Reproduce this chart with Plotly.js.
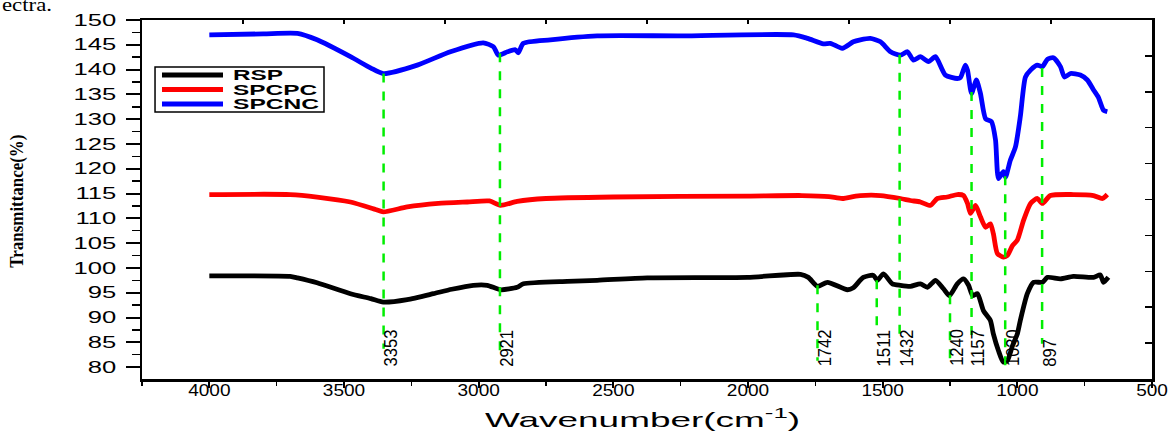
<!DOCTYPE html>
<html>
<head>
<meta charset="utf-8">
<script src="https://cdn.plot.ly/plotly-3.0.1.min.js"></script>
<style>
html,body{margin:0;padding:0;background:#fff;}
#chart{width:1173px;height:435px;}
</style>
</head>
<body>
<div id="chart"></div>
<script>
// ---- Data ----
const rspX = [4000,3700,3673,3600,3476,3400,3354,3265,3168,3100,3020,2968,2919,2857,2834,2671,2560,2374,2002,1805,1776,1742,1705,1631,1609,1572,1534,1520,1497,1464,1434,1397,1360,1334,1304,1274,1252,1223,1200,1181,1166,1148,1126,1100,1089,1070,1052,1037,1018,1000,989,963,940,907,888,840,792,717,692,680,662];
const rspY = [98.4,98.3,98.0,97.0,94.8,93.8,93.1,93.6,94.8,95.7,96.5,96.5,95.6,96.1,96.8,97.3,97.5,98.0,98.1,98.7,98.1,96.3,97.1,95.6,96.0,98.1,98.5,97.5,98.8,96.8,96.5,96.3,96.8,96.1,97.5,95.8,94.4,96.8,97.8,96.5,94.4,94.8,91.4,89.4,86.7,83.3,81.0,81.3,84.3,86.7,89.4,94.8,97.1,97.1,98.1,97.8,98.3,98.1,98.6,97.1,98.1];

const spcpcX = [4000,3700,3600,3476,3383,3354,3265,3150,3042,2960,2919,2857,2750,2500,2000,1800,1700,1650,1600,1583,1508,1434,1397,1360,1323,1297,1260,1223,1200,1185,1174,1155,1137,1118,1100,1089,1074,1052,1037,1018,1000,977,951,926,907,877,792,717,684,666];
const spcpcY = [114.8,114.8,114.3,113.3,111.8,111.3,112.3,113.0,113.3,113.5,112.6,113.4,114.0,114.3,114.5,114.6,114.4,114.0,114.5,114.6,114.6,114.0,113.6,113.3,112.6,114.0,114.3,114.8,114.6,113.0,111.0,112.6,110.3,108.2,108.9,106.9,102.9,102.2,102.5,104.5,105.6,109.6,113.0,114.0,113.0,114.6,114.8,114.6,114.0,114.8];

const spcncX = [4000,3800,3673,3600,3476,3400,3354,3228,3105,2983,2945,2927,2893,2864,2853,2834,2734,2560,2251,1831,1779,1720,1694,1650,1609,1583,1546,1508,1471,1434,1408,1386,1360,1330,1304,1267,1223,1211,1193,1185,1170,1152,1137,1118,1096,1081,1070,1052,1044,1026,1007,989,970,951,926,907,888,866,840,825,803,766,740,717,699,680,666];
const spcncY = [147.0,147.2,147.3,146.0,142.6,140.3,139.2,140.9,143.6,145.4,144.6,142.9,143.6,144.0,143.4,145.3,146.0,146.8,146.8,147.0,146.3,145.2,145.3,144.3,145.6,146.0,146.3,145.6,143.6,142.9,143.6,141.9,142.6,141.6,142.6,138.9,138.2,138.4,140.9,139.9,135.2,137.9,135.2,130.1,129.5,125.8,118.0,119.4,118.3,121.7,124.4,130.5,138.5,139.9,140.9,140.6,142.1,142.4,140.6,138.5,139.2,138.9,137.9,135.9,134.4,131.8,131.5];

const seriesNames  = ['RSP', 'SPCPC', 'SPCNC'];
const seriesColors = ['#000000', '#ff0000', '#0000ff'];

const peakPos    = [3353, 2921, 1742, 1522, 1437, 1250, 1170, 1045, 908];
const peakLabels = ["3353","2921","1742","1511","1432","1240","1157","1030","897"];
const peakTop    = [139.2, 143.3, 96.5, 97.5, 143.0, 94.5, 135.5, 118.5, 140.3];
const peakBottom = [83.7, 83.3, 81.3, 86.8, 85.3, 80.0, 84.7, 79.5, 84.7];

const xTicks = [4000,3500,3000,2500,2000,1500,1000,500];
const yTicks = [80,85,90,95,100,105,110,115,120,125,130,135,140,145,150];

const FONT = 'Liberation Sans, Arial, sans-serif';
const SERIF = 'Liberation Serif, Times New Roman, serif';

// ---- Traces ----
const seriesX = [rspX, spcpcX, spcncX];
const seriesY = [rspY, spcpcY, spcncY];
const traces = seriesNames.map((n, i) => ({
  x: seriesX[i], y: seriesY[i], name: n, type: 'scatter', mode: 'lines', showlegend: false,
  line: {color: seriesColors[i], width: 4.8, shape: 'spline', smoothing: 0.6}
}));

peakPos.forEach((p, i) => {
  traces.push({x: [p, p], y: [peakTop[i], peakBottom[i]], type: 'scatter', mode: 'lines', showlegend: false, hoverinfo: 'skip',
    line: {color: '#00ee00', width: 2.5, dash: 'dash'}});
});

// empty trace so the top/right frame axes get drawn
traces.push({x: [], y: [], xaxis: 'x2', yaxis: 'y2', type: 'scatter', mode: 'lines', showlegend: false, hoverinfo: 'skip'});

const annotations = peakPos.map((p, i) => ({
  x: p, y: 79.2, xref: 'x', yref: 'y', text: peakLabels[i], showarrow: false,
  textangle: -90, xanchor: 'left', yanchor: 'bottom', xshift: -6,
  font: {family: FONT, size: 19, color: '#000'}
}));

// axis titles
annotations.push({xref: 'paper', yref: 'paper', x: 0.496, y: -0.108, xanchor: 'center', yanchor: 'middle',
  text: 'Wavenumber(cm<sup>-1</sup>)', showarrow: false, font: {family: FONT, size: 21, color: '#000'}});
annotations.push({xref: 'paper', yref: 'paper', x: -0.1238, y: 0.496, xanchor: 'center', yanchor: 'middle', textangle: -90,
  text: '<b>Transmittance(%)</b>', showarrow: false, font: {family: SERIF, size: 19, color: '#000'}});
// page text above the chart
annotations.push({xref: 'paper', yref: 'paper', x: -0.1406, y: 1.078, xanchor: 'left', yanchor: 'top',
  text: 'ectra.', showarrow: false, font: {family: SERIF, size: 19, color: '#000'}});

// ---- Hand-drawn legend (box, line samples, labels) ----
const shapes = [{type: 'rect', xref: 'paper', yref: 'paper', x0: 0.0129, x1: 0.1802, y0: 0.7437, y1: 0.8691,
  line: {color: '#000', width: 1.5}, fillcolor: '#fff', layer: 'above'}];
const legRows = [0.8468, 0.8064, 0.766];
seriesNames.forEach((n, i) => {
  shapes.push({type: 'line', xref: 'paper', yref: 'paper', x0: 0.0198, x1: 0.0802, y0: legRows[i], y1: legRows[i],
    line: {color: seriesColors[i], width: 5}, layer: 'above'});
  annotations.push({xref: 'paper', yref: 'paper', x: 0.0885, y: legRows[i], xanchor: 'left', yanchor: 'middle',
    text: '<b>' + n + '</b>', showarrow: false, font: {family: FONT, size: 14, color: '#000'}});
});

const layout = {
  width: 1173, height: 435,
  margin: {l: 142, r: 21, t: 20, b: 56},
  paper_bgcolor: '#fff', plot_bgcolor: '#fff',
  showlegend: false,
  xaxis: {
    range: [4250, 500], tickvals: xTicks, ticktext: xTicks.map(String),
    ticks: 'outside', ticklen: 6, tickwidth: 2, tickcolor: '#000', ticklabelstandoff: -12,
    minor: {dtick: 250, tick0: 0, ticks: 'outside', ticklen: 4, tickwidth: 1.5, tickcolor: '#000'},
    showline: true, linecolor: '#000', linewidth: 2.5, mirror: true, showgrid: false, zeroline: false,
    tickfont: {family: FONT, size: 17, color: '#000'}
  },
  yaxis: {
    range: [77.6, 150], tickvals: yTicks, ticktext: yTicks.map(String),
    ticks: 'outside', ticklen: 14, tickwidth: 2, tickcolor: '#000', ticklabelstandoff: 6,
    minor: {dtick: 2.5, tick0: 0, ticks: 'outside', ticklen: 8, tickwidth: 1.5, tickcolor: '#000'},
    showline: true, linecolor: '#000', linewidth: 2.5, mirror: true, showgrid: false, zeroline: false,
    tickfont: {family: FONT, size: 16, color: '#000'}
  },
  // frame ticks on top and right edges (inward, unlabeled)
  xaxis2: {overlaying: 'x', side: 'top', anchor: 'y2', range: [0, 10], dtick: 1, ticks: 'inside', ticklen: 4, tickwidth: 1.5,
    tickcolor: '#000', showticklabels: false, showgrid: false, zeroline: false, showline: false, fixedrange: true},
  yaxis2: {overlaying: 'y', side: 'right', anchor: 'x2', range: [0, 10], dtick: 1, ticks: 'inside', ticklen: 7, tickwidth: 1.5,
    tickcolor: '#000', showticklabels: false, showgrid: false, zeroline: false, showline: false, fixedrange: true},
  shapes: shapes,
  annotations: annotations
};

function stretch(el, len) {
  if (!el) return;
  el.setAttribute('textLength', len);
  el.setAttribute('lengthAdjust', 'spacingAndGlyphs');
}
function stretchLeft(el, len) {
  if (!el) return;
  const old = el.getComputedTextLength();
  stretch(el, len);
  const x = parseFloat(el.getAttribute('x') || '0');
  el.setAttribute('x', x + (len - old) / 2);
}

Plotly.newPlot('chart', traces, layout, {displayModeBar: false, staticPlot: true}).then(gd => {
  gd.querySelectorAll('.yaxislayer-above .ytick text').forEach(t => stretch(t, t.getComputedTextLength() * 1.6));
  gd.querySelectorAll('.xaxislayer-above .xtick text').forEach(t => stretch(t, t.getComputedTextLength() * 1.12));
  const ann = gd.querySelectorAll('.annotation');
  ann.forEach((a, idx) => {
    const t = a.querySelector('text.annotation-text');
    if (!t) return;
    const txt = t.textContent;
    if (idx < peakPos.length) stretch(t, txt.length * 9.2);
    else if (txt.indexOf('Wavenumber') === 0) stretch(t, 315);
    else if (txt.indexOf('Transmittance') === 0) stretch(t, 133);
    else if (txt === 'RSP') stretchLeft(t, 50);
    else if (txt === 'SPCPC') stretchLeft(t, 84);
    else if (txt === 'SPCNC') stretchLeft(t, 86);
    else if (txt === 'ectra.') stretchLeft(t, 50);
  });
});
</script>
</body>
</html>
